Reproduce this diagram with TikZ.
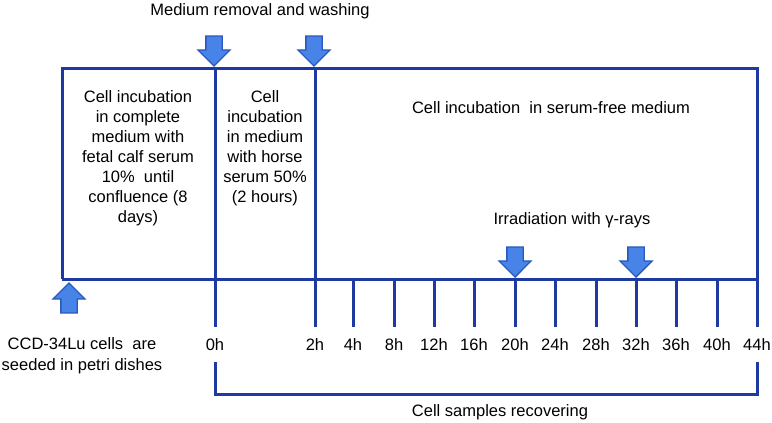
\documentclass[tikz,border=0pt]{standalone}
\usepackage{fontspec}
\setmainfont{Liberation Sans}
\usetikzlibrary{shapes.arrows, positioning}
\definecolor{lineblue}{RGB}{30,58,160}
\definecolor{arrowfill}{RGB}{72,132,232}
\definecolor{arrowedge}{RGB}{42,88,190}

\begin{document}
\begin{tikzpicture}[x=1pt, y=-1pt,
		every node/.style={font=\fontsize{16.5}{20}\selectfont, align=center},
		axis/.style={draw=lineblue, line width=3pt},
		bigarrow/.style={single arrow, draw=arrowedge, fill=arrowfill, line width=1.3pt,
			minimum height=30pt, single arrow head extend=8pt, inner xsep=0pt, inner ysep=7.5pt}]
			\useasboundingbox (0,0) rectangle (772,423);

			\coordinate (nw) at (62,68);
			\coordinate (ne) at (757,68);
			\coordinate (sw) at (62,279);
			\foreach \t/\x in {0/215, 2/315, 4/353, 8/394, 12/434, 16/474, 20/515,
				24/555, 28/596, 32/636, 36/676, 40/717, 44/757} {
				\coordinate (t\t) at (\x,279);
				\coordinate (b\t) at (\x,327);
				\node (h\t) at (\x,345) {\t h};
			}
			\coordinate (r0) at (215,362);
			\coordinate (r44) at (757,362);

			\draw[axis] (sw) -- (nw) -- (ne) -- (b44);
			\draw[axis] (sw) -- (t44);
			\draw[axis] (t0 |- nw) -- (b0);
			\draw[axis] (t2 |- nw) -- (b2);
			\foreach \t in {4,8,...,40}
				\draw[axis] (t\t) -- (b\t);
			\draw[axis] (r0) -- ++(0,32) -| (r44);

			\node (pre) at (138,158) {Cell incubation\\in complete\\medium with\\fetal calf serum\\10\%\ \ until\\confluence (8\\days)};
			\node (horse) at (265,148) {Cell\\incubation\\in medium\\with horse\\serum 50\%\\(2 hours)};
			\node (free) at (551,108) {Cell incubation\ \ in serum-free medium};

			\node[bigarrow, rotate=-90] (wash0) at (214,47) {};
			\node[bigarrow, rotate=-90] (wash2) at (314,47) {};
			\node (wash) at (260,11) {Medium removal and washing};
			\node[bigarrow, rotate=-90] (irr20) at (515,258) {};
			\node[bigarrow, rotate=-90] (irr32) at (636,258) {};
			\node (irr) at (572,220) {Irradiation with γ-rays};
			\node[bigarrow, rotate=90] (seed) at (69,302) {};
			\node (seedtxt) at (82,356) {CCD-34Lu cells\ \ are\\[1pt]seeded in petri dishes};
			\node (recov) at (500,412) {Cell samples recovering};

		\end{tikzpicture}
\end{document}
